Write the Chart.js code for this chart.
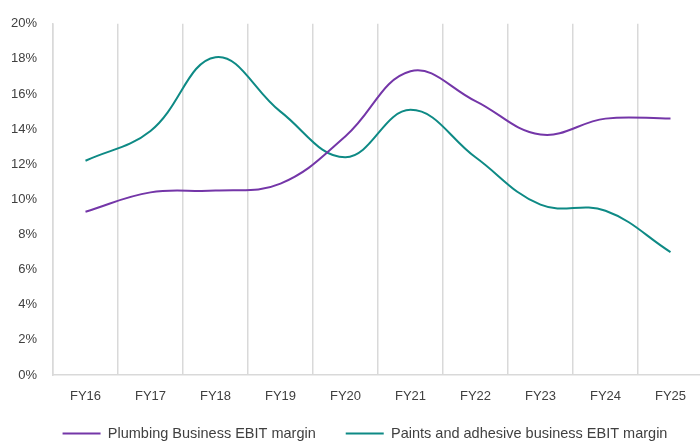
<!DOCTYPE html>
<html>
<head>
<meta charset="utf-8">
<script src="https://cdn.jsdelivr.net/npm/chart.js@4.4.1/dist/chart.umd.min.js"></script>
<style>
  html, body { margin: 0; padding: 0; background: #fff; overflow: hidden; width: 700px; height: 441px; }
  #wrap { width: 704px; height: 441px; }
</style>
</head>
<body>
<div id="wrap"><canvas id="c" width="704" height="441"></canvas></div>
<script>
// Fiscal years on the category axis
const categories = ['FY16', 'FY17', 'FY18', 'FY19', 'FY20', 'FY21', 'FY22', 'FY23', 'FY24', 'FY25'];

// EBIT margins, in percent
const plumbingMargin = [9.3, 10.4, 10.5, 10.9, 13.6, 17.3, 15.6, 13.7, 14.6, 14.6];
const paintsMargin   = [12.2, 13.9, 18.1, 15.0, 12.4, 15.1, 12.4, 9.7, 9.35, 7.0];

// Value-axis ticks
const yTickValues = [0, 2, 4, 6, 8, 10, 12, 14, 16, 18, 20];

const seriesNames = ['Plumbing Business EBIT margin', 'Paints and adhesive business EBIT margin'];

const textColor = '#404040';
const gridColor = '#d9d9d9';
const fontFamily = '"Liberation Sans", Arial, sans-serif';
const axisFont = { family: fontFamily, size: 13 };
const legendFont = { family: fontFamily, size: 14.5 };
const legendPadding = 30;

// Fix the legend band height, then place its row where it belongs
const legendBand = {
  id: 'legendBand',
  beforeLayout(chart) {
    const lg = chart.legend;
    if (lg && !lg._bandFixed) {
      const fit = lg.fit.bind(lg);
      lg.fit = function () { fit(); this.height = 36; };
      lg._bandFixed = true;
    }
  },
  afterLayout(chart) {
    const lg = chart.legend;
    if (!lg) return;
    lg.top = 433.5 - legendFont.size / 2 - legendPadding;
    lg.bottom = chart.height;
    lg.left = 27;
    lg.right = 703;
  }
};

new Chart(document.getElementById('c'), {
  type: 'line',
  data: {
    labels: categories,
    datasets: [
      {
        label: seriesNames[0],
        data: plumbingMargin,
        borderColor: '#7436a8',
        backgroundColor: '#7436a8',
        borderWidth: 2,
        pointRadius: 0,
        tension: 0.4,
        fill: false
      },
      {
        label: seriesNames[1],
        data: paintsMargin,
        borderColor: '#0e8a85',
        backgroundColor: '#0e8a85',
        borderWidth: 2,
        pointRadius: 0,
        tension: 0.4,
        fill: false
      }
    ]
  },
  options: {
    responsive: false,
    animation: false,
    layout: { padding: { left: 0, top: 22, right: 1, bottom: 0 } },
    plugins: {
      tooltip: { enabled: false },
      legend: {
        position: 'bottom',
        fullSize: true,
        labels: {
          color: textColor,
          font: legendFont,
          usePointStyle: true,
          pointStyle: 'line',
          pointStyleWidth: 38,
          padding: legendPadding
        }
      }
    },
    scales: {
      x: {
        offset: true,
        grid: { display: true, offset: true, color: gridColor, lineWidth: 1.5, drawTicks: false },
        border: { display: true, color: gridColor, width: 1.5 },
        ticks: { color: textColor, font: axisFont, padding: 14, maxRotation: 0, autoSkip: false },
        afterFit(scale) { scale.height = 30; }
      },
      y: {
        min: 0,
        max: 20,
        grid: { display: false, drawTicks: false },
        border: { display: true, color: gridColor, width: 1.5 },
        afterBuildTicks(scale) { scale.ticks = yTickValues.map(v => ({ value: v })); },
        ticks: {
          color: textColor,
          font: axisFont,
          padding: 16,
          callback: v => v + '%'
        },
        afterFit(scale) { scale.width = 53; }
      }
    }
  },
  plugins: [legendBand]
});
</script>
</body>
</html>
